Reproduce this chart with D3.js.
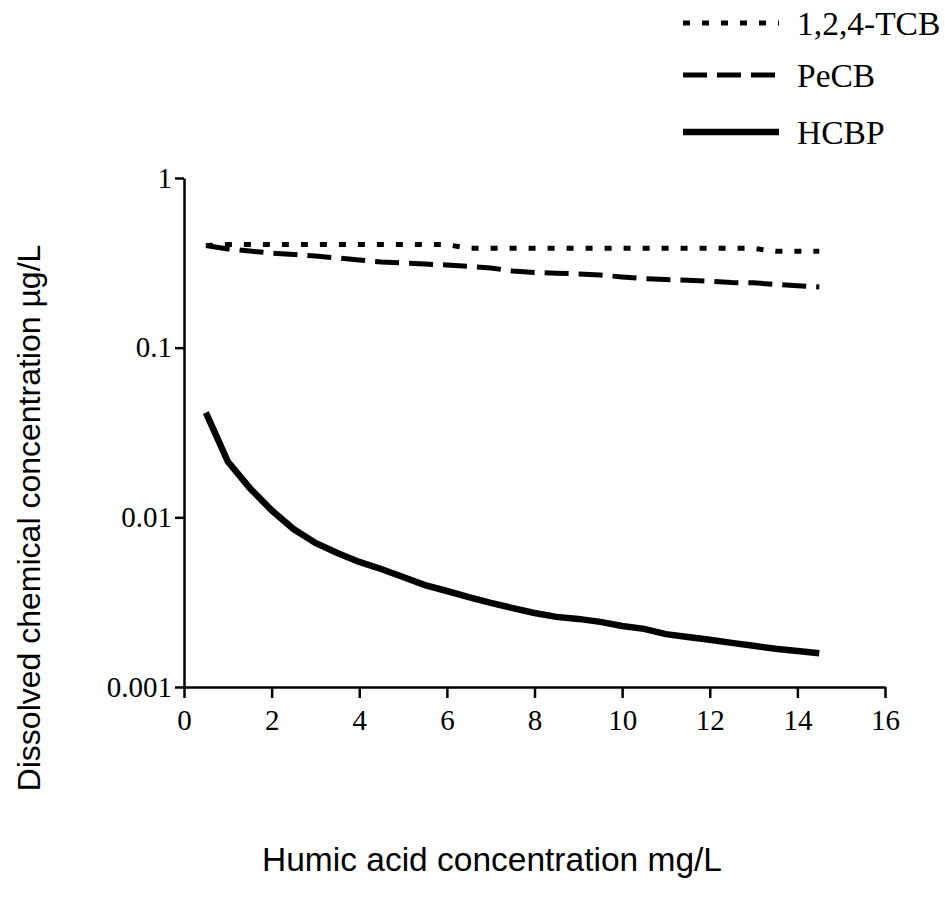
<!DOCTYPE html>
<html lang="en">
<head>
  <meta charset="UTF-8">
  <title>Dissolved chemical concentration vs humic acid</title>
  <style>
    body { margin: 0; background: #fff; }
    svg { display: block; }
    .tick text { font-family: "Liberation Serif", "Times New Roman", serif; font-size: 29px; fill: #000; }
    .axis-title { font-family: "Liberation Sans", Arial, sans-serif; font-size: 32px; fill: #000; }
    .legend text { font-family: "Liberation Serif", "Times New Roman", serif; font-size: 33.5px; fill: #000; }
  </style>
</head>
<body>
  <svg id="chart" width="945" height="911"></svg>

  <script src="https://d3js.org/d3.v7.min.js"></script>
  <script>
    // Humic acid concentration (mg/L)
    const humicAcid = [0.5, 1, 1.5, 2, 2.5, 3, 3.5, 4, 4.5, 5, 5.5, 6, 6.5, 7, 7.5,
      8, 8.5, 9, 9.5, 10, 10.5, 11, 11.5, 12, 12.5, 13, 13.5, 14, 14.5]

    // Dissolved concentrations (µg/L)
    const tcbValues = [0.40, 0.405, 0.405, 0.405, 0.405, 0.405, 0.405, 0.405, 0.405, 0.405, 0.405, 0.405, 0.385, 0.385, 0.385,
      0.385, 0.385, 0.385, 0.385, 0.385, 0.385, 0.385, 0.385, 0.385, 0.385, 0.385, 0.37, 0.37, 0.37]
    const pecbValues = [0.40, 0.382, 0.371, 0.361, 0.354, 0.347, 0.338, 0.329, 0.320, 0.316, 0.311, 0.307, 0.301, 0.295, 0.283,
      0.277, 0.275, 0.272, 0.268, 0.261, 0.255, 0.252, 0.250, 0.246, 0.242, 0.241, 0.236, 0.232, 0.228]
    const hcbpValues = [0.0414, 0.0213, 0.0149, 0.0110, 0.00853, 0.00706, 0.00616, 0.00546, 0.00496, 0.00445, 0.00399, 0.00368, 0.00339, 0.00313, 0.00292,
      0.00273, 0.00259, 0.00252, 0.00242, 0.00229, 0.0022, 0.00205, 0.00197, 0.0019, 0.00182, 0.00175, 0.00168, 0.00163, 0.00158]

    const seriesNames = ['1,2,4-TCB', 'PeCB', 'HCBP']
    const xTicks = [0, 2, 4, 6, 8, 10, 12, 14, 16]
    const yTicks = [1, 0.1, 0.01, 0.001]
    const yTickLabels = ['1', '0.1', '0.01', '0.001']

    // Line styles per series
    const styles = [
      { dash: '7,12', width: 5 },
      { dash: '24,10', width: 5 },
      { dash: null, width: 6.5 }
    ]

    const svg = d3.select('#chart')

    const xscale = d3.scaleLinear().domain([0, 16]).range([184, 885])
    const yscale = d3.scaleLog().domain([0.001, 1]).range([687, 178])

    // Axes
    const bottomAxis = d3.axisBottom(xscale)
      .tickValues(xTicks)
      .tickSize(11)
      .tickSizeOuter(0)
      .tickPadding(11)

    svg.append('g')
      .attr('transform', `translate(0, ${yscale(0.001)})`)
      .call(bottomAxis)

    const leftAxis = d3.axisLeft(yscale)
      .tickValues(yTicks)
      .tickFormat((d, i) => yTickLabels[i])
      .tickSize(9)
      .tickSizeOuter(0)
      .tickPadding(3)

    svg.append('g')
      .attr('transform', `translate(${xscale(0)}, 0)`)
      .call(leftAxis)

    svg.selectAll('.domain').attr('stroke', '#000').attr('stroke-width', 2.5)
    svg.selectAll('.tick line').attr('stroke', '#000').attr('stroke-width', 2.5)

    // Series lines
    const allSeries = [tcbValues, pecbValues, hcbpValues]
    const line = d3.line()
      .x((d, i) => xscale(humicAcid[i]))
      .y(d => yscale(d))

    allSeries.forEach((vals, k) => {
      svg.append('path')
        .datum(vals)
        .attr('fill', 'none')
        .attr('stroke', '#000')
        .attr('stroke-width', styles[k].width)
        .attr('stroke-dasharray', styles[k].dash)
        .attr('d', line)
    })

    // Axis titles
    svg.append('text')
      .attr('class', 'axis-title')
      .attr('x', 492)
      .attr('y', 871)
      .attr('text-anchor', 'middle')
      .style('font-size', '33.5px')
      .text('Humic acid concentration mg/L')

    svg.append('text')
      .attr('class', 'axis-title')
      .attr('transform', 'translate(40, 518) rotate(-90)')
      .attr('text-anchor', 'middle')
      .text('Dissolved chemical concentration µg/L')

    // Legend
    const legend = svg.append('g').attr('class', 'legend')
    const legendY = [23, 75, 132]
    seriesNames.forEach((name, k) => {
      legend.append('line')
        .attr('x1', 683).attr('x2', 779)
        .attr('y1', legendY[k]).attr('y2', legendY[k])
        .attr('stroke', '#000')
        .attr('stroke-width', styles[k].width)
        .attr('stroke-dasharray', styles[k].dash)
      legend.append('text')
        .attr('x', 797)
        .attr('y', legendY[k] + 12)
        .text(name)
    })
  </script>
</body>
</html>
